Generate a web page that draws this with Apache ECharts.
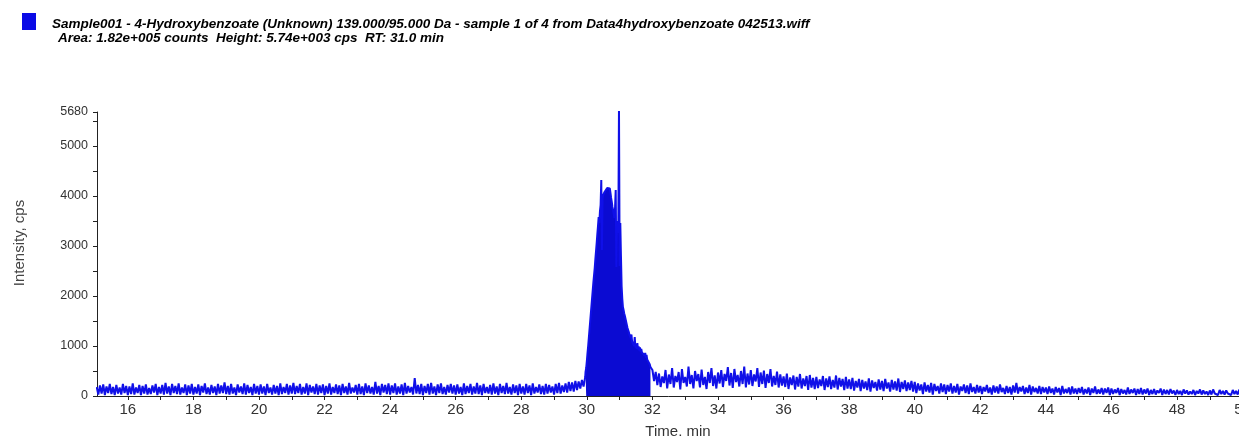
<!DOCTYPE html>
<html>
<head>
<meta charset="utf-8">
<title>Sample001 - 4-Hydroxybenzoate XIC</title>
<script src="https://cdn.jsdelivr.net/npm/echarts@6/dist/echarts.min.js"></script>
<style>
  html, body { margin: 0; padding: 0; background: #fff; }
  #chart { width: 1239px; height: 436px; }
</style>
</head>
<body>
<div id="chart"></div>
<script>
// baseline before the peak, one point every 0.05 min
const baseStart = 15.05
const baseStep = 0.05
const baseValues = [
  180,30,210,50,230,20,190,60,240,40,180,20,220,50,170,30,240,60,200,20,
  190,40,250,30,170,60,220,20,200,50,230,30,160,40,210,70,240,20,180,50,
  220,30,260,50,190,20,240,60,200,40,250,30,170,60,230,20,210,50,240,30,
  180,50,230,20,200,70,250,40,170,30,220,60,190,20,240,50,210,60,270,40,
  200,30,240,50,170,20,230,70,190,40,250,30,220,60,180,20,240,50,200,30,
  230,50,190,20,240,60,170,30,220,50,200,20,250,40,180,60,240,30,210,50,
  260,40,200,60,240,30,180,50,250,20,220,70,190,40,240,30,210,60,230,20,
  200,50,250,30,180,60,230,40,210,20,240,60,190,30,260,50,170,70,220,30,
  240,40,190,20,250,60,210,50,180,30,280,50,200,20,240,70,220,40,250,30,
  210,60,250,30,190,50,230,20,260,50,200,70,180,30,360,50,220,40,240,20,
  200,60,240,30,260,50,190,20,230,60,250,40,180,30,220,70,240,50,210,30,
  230,50,180,20,250,40,200,60,240,30,190,50,260,40,210,20,240,60,180,50,
  220,30,250,50,190,20,240,60,200,40,260,50,180,30,230,60,210,20,240,50,
  190,30,240,60,210,20,250,50,180,70,230,40,200,30,240,50,220,70,190,30,
  240,60,260,50,210,80,250,70,280,100,270,90,300,120,290,150,320,190,380
]

// integrated peak, finer sampling (0.02 min)
const peakStart = 29.96
const peakStep = 0.02
const peakValues = [
  480,560,700,860,1000,1160,1320,1480,1640,1800,
  1960,2120,2280,2420,2560,2740,2900,3060,3240,3400,
  3580,3460,3700,3820,4320,2920,3960,4020,3980,4080,
  4050,4120,4100,4160,4140,4200,4180,4150,4060,3960,
  3880,3780,3720,3640,3560,3760,4120,2580,3500,3380,
  3260,5740,2600,3460,2800,2200,1950,1780,1720,1650,
  1600,1540,1480,1420,1360,1320,1280,1220,1250,1160,
  1230,1090,1050,1110,1000,1180,970,1020,950,1060,
  930,990,910,970,890,940,870,910,850,890,
  810,860,770,820,730,770,690,710,630,580,
  540
]
const peakEnd = 31.94

// tail after the peak, 0.05 min
const tailStart = 32.0
const tailStep = 0.05
const tailValues = [
  520,300,480,220,450,180,390,260,520,150,430,240,560,170,400,280,480,130,540,260,
  380,190,590,240,420,150,500,300,440,170,530,220,380,140,480,260,560,200,410,150,
  470,250,520,180,440,300,580,210,460,160,540,280,420,190,500,240,590,170,450,230,
  520,200,430,290,560,180,470,240,510,160,440,260,540,190,400,220,490,170,430,210,
  390,180,450,140,370,220,410,130,380,190,440,150,350,200,400,120,420,170,360,140,
  380,160,330,200,400,120,350,180,390,140,320,170,410,130,360,190,340,120,380,150,
  330,140,360,110,300,170,340,100,320,150,290,120,350,90,310,160,280,110,330,130,
  300,100,340,150,270,90,320,130,290,110,350,80,280,140,310,100,270,120,300,90,
  280,60,250,110,230,40,270,90,220,70,260,30,240,100,200,50,250,80,230,40,
  220,90,250,50,200,70,240,30,190,100,230,60,210,40,250,80,180,50,220,70,
  200,40,180,90,220,60,170,30,210,70,190,50,230,80,160,40,200,60,180,30,
  210,70,260,50,180,90,200,40,170,60,220,30,190,80,160,50,200,40,180,70,
  170,40,190,60,150,30,180,70,160,20,200,50,140,60,170,30,190,50,150,40,
  160,60,180,30,140,50,170,20,150,60,190,40,130,50,160,30,150,60,170,20,
  150,40,130,60,160,20,140,50,120,30,170,40,130,60,150,20,140,40,160,30,
  130,50,150,20,120,40,140,30,110,60,150,20,130,40,120,30,140,50,110,20,
  120,40,100,20,130,50,110,30,90,40,120,20,100,50,130,30,110,40,90,20,
  110,30,130,50,90,20,120,40,100,30,110,50,90,20,120,40,100,30,130,40,
  100,30,120,40,90,20,110,50,100,30,120
]

// axis ticks / labels
const xLabels = [16,18,20,22,24,26,28,30,32,34,36,38,40,42,44,46,48,50]
const xTicks = [16,17,18,19,20,21,22,23,24,25,26,27,28,29,30,31,32,33,34,35,36,37,38,39,40,41,42,43,44,45,46,47,48,49,50]
const yLabels = [0,1000,2000,3000,4000,5000,5680]
const yTicks = [0,500,1000,1500,2000,2500,3000,3500,4000,4500,5000,5500,5680]

const titleLine1 = 'Sample001 - 4-Hydroxybenzoate (Unknown) 139.000/95.000 Da - sample 1 of 4 from Data4hydroxybenzoate 042513.wiff'
const titleLine2 = 'Area: 1.82e+005 counts  Height: 5.74e+003 cps  RT: 31.0 min'

function toPairs(start, step, values) {
  return values.map((v, i) => [+(start + i * step).toFixed(3), v])
}

const basePts = toPairs(baseStart, baseStep, baseValues)
const peakPts = toPairs(peakStart, peakStep, peakValues)
const tailPts = toPairs(tailStart, tailStep, tailValues)
const allPts = basePts.concat(peakPts, tailPts)
const fillPts = peakPts.filter(p => p[0] <= peakEnd + 1e-9)

const titleStyle = {
  fontFamily: 'Liberation Sans, Arial, sans-serif',
  fontSize: 13.5,
  fontWeight: 'bold',
  fontStyle: 'italic',
  color: '#000'
}

let myChart = echarts.init(document.getElementById('chart'), null, {renderer: 'canvas'})
myChart.setOption({
  animation: false,
  backgroundColor: '#fff',
  title: [
    {text: titleLine1, left: 52, top: 17, padding: 0, textStyle: titleStyle},
    {text: titleLine2, left: 58, top: 31, padding: 0, textStyle: titleStyle}
  ],
  graphic: [
    // the blue legend square next to the title
    {type: 'rect', left: 22, top: 13, shape: {width: 14, height: 17}, style: {fill: '#0a0ae6'}}
  ],
  grid: {
    left: 97,
    right: -20,
    top: 112,
    bottom: 40,
    containLabel: false,
    outerBoundsMode: 'none'
  },
  xAxis: {
    type: 'value',
    min: 15.06,
    max: 50.5,
    name: 'Time, min',
    nameLocation: 'middle',
    nameGap: 28,
    nameTextStyle: {fontFamily: 'Liberation Sans, Arial, sans-serif', fontSize: 15, color: '#333'},
    axisLine: {lineStyle: {color: '#222', width: 1}},
    axisTick: {show: true, customValues: xTicks, length: 4, lineStyle: {color: '#222'}},
    axisLabel: {
      customValues: xLabels,
      margin: 6,
      fontFamily: 'Liberation Sans, Arial, sans-serif',
      fontSize: 15,
      color: '#333'
    },
    splitLine: {show: false}
  },
  yAxis: {
    type: 'value',
    min: 0,
    max: 5680,
    name: 'Intensity, cps',
    nameLocation: 'middle',
    nameGap: 70,
    nameRotate: 90,
    nameTextStyle: {fontFamily: 'Liberation Sans, Arial, sans-serif', fontSize: 15, color: '#444', padding: [0, 0, 0, 22]},
    axisLine: {show: true, lineStyle: {color: '#222', width: 1}},
    axisTick: {show: true, customValues: yTicks, length: 4, lineStyle: {color: '#222'}},
    axisLabel: {
      customValues: yLabels,
      formatter: v => String(v),
      margin: 9,
      fontFamily: 'Liberation Sans, Arial, sans-serif',
      fontSize: 12.5,
      color: '#333'
    },
    splitLine: {show: false}
  },
  series: [
    {
      // shaded integration area
      name: 'peak',
      type: 'line',
      data: fillPts,
      showSymbol: false,
      symbol: 'none',
      lineStyle: {width: 0},
      areaStyle: {color: '#0b0bd2', opacity: 1},
      silent: true
    },
    {
      name: 'XIC 139.000/95.000',
      type: 'line',
      data: allPts,
      showSymbol: false,
      symbol: 'none',
      sampling: false,
      lineStyle: {color: '#1010e8', width: 2},
      silent: true
    }
  ]
})
</script>
</body>
</html>
